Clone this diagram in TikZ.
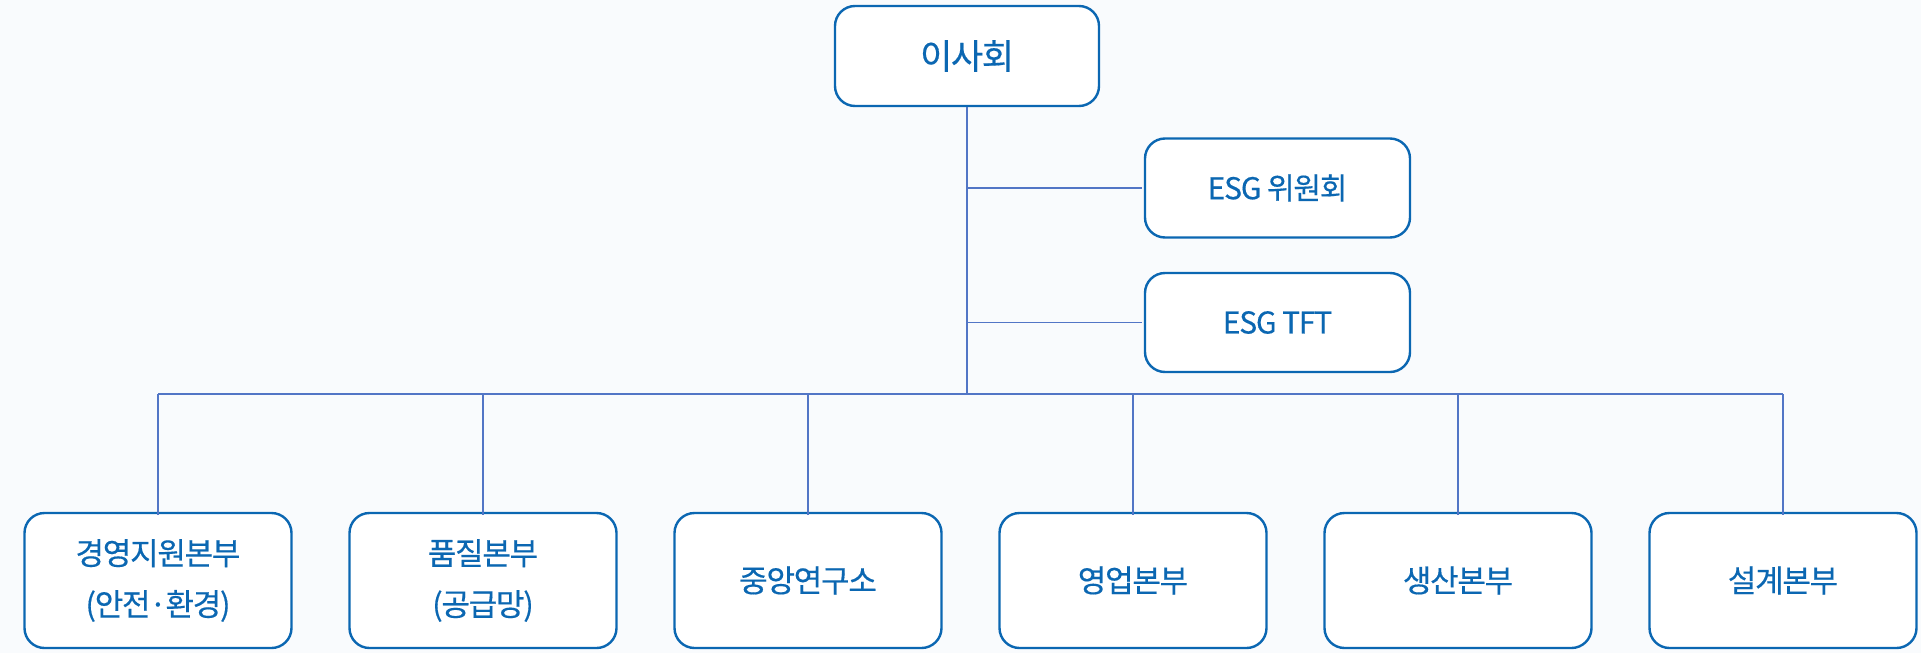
\documentclass[tikz,border=0pt]{standalone}
\usepackage{fontspec}
\setmainfont{Noto Sans CJK KR}[LetterSpace=-4,FakeBold=0.4]
\definecolor{bg}{HTML}{F9FBFD}
\definecolor{boxblue}{HTML}{0B67B2}
\definecolor{linkblue}{HTML}{5276C6}
\begin{document}
\begin{tikzpicture}[x=1pt,y=-1pt,
  orgbox/.style={draw=boxblue, line width=2.4pt, fill=white, rounded corners=20pt,
    text=boxblue, align=center, inner sep=0pt},
  topbox/.style={orgbox, minimum width=264pt, minimum height=100pt, font=\fontsize{35}{40}\selectfont},
  sidebox/.style={orgbox, minimum width=265pt, minimum height=99pt, font=\fontsize{30}{35}\selectfont},
  deptbox/.style={orgbox, minimum width=267pt, minimum height=135pt, font=\fontsize{31}{51}\selectfont},
  link/.style={draw=linkblue, line width=1.4pt}]
\fill[bg] (0,0) rectangle (1921,653);
\useasboundingbox (0,0) rectangle (1921,653);
\coordinate (hub) at (967,394);
\node[topbox] (board) at (967,56) {이사회};
\node[sidebox] (esgc) at (1277.5,188) {ESG 위원회};
\node[sidebox] (esgt) at (1277.5,322.5) {ESG TFT};
\node[deptbox] (d1) at (158,580.5) {경영지원본부\\(안전·환경)};
\node[deptbox] (d2) at (483,580.5) {품질본부\\(공급망)};
\node[deptbox] (d3) at (808,580.5) {중앙연구소};
\node[deptbox] (d4) at (1133,580.5) {영업본부};
\node[deptbox] (d5) at (1458,580.5) {생산본부};
\node[deptbox] (d6) at (1783,580.5) {설계본부};
\path[link] (board.south) -- (hub);
\path[link] (board.south |- esgc) -- ([xshift=-2pt]esgc.west);
\path[link] (board.south |- esgt) -- ([xshift=-2pt]esgt.west);
\path[link] (d1.north |- hub) -- (d6.north |- hub);
\foreach \d in {d1,d2,d3,d4,d5,d6}
  \path[link] (\d.north |- hub) -- ([yshift=-3pt]\d.north);
\end{tikzpicture}
\end{document}
